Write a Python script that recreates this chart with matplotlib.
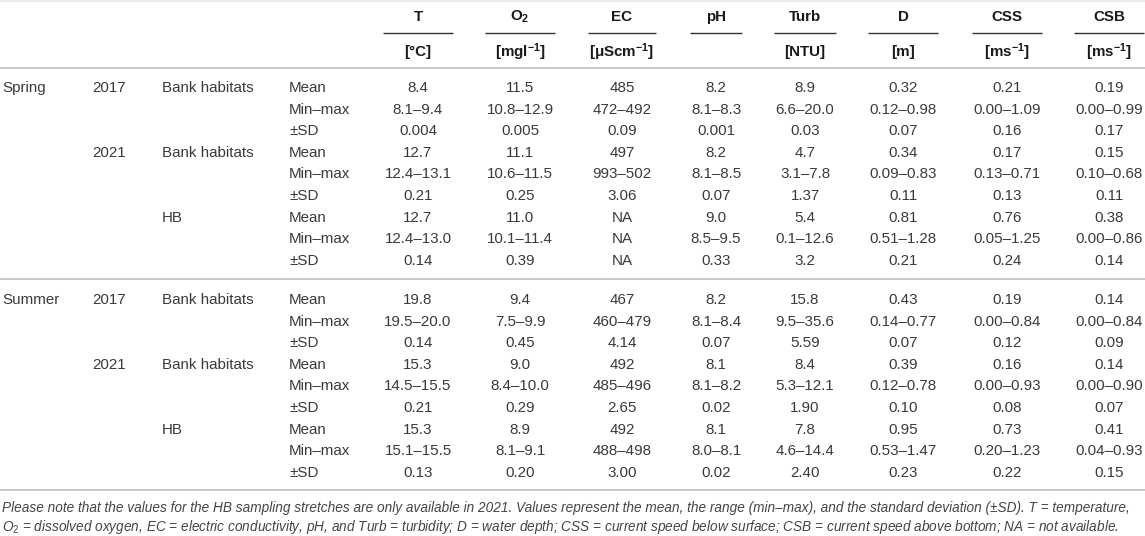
import matplotlib
matplotlib.use("Agg")
import matplotlib.pyplot as plt

plt.rcParams['font.family'] = ['Liberation Sans', 'DejaVu Sans']
plt.rcParams['mathtext.fontset'] = 'custom'
plt.rcParams['mathtext.rm'] = 'Liberation Sans'
plt.rcParams['mathtext.bf'] = 'Liberation Sans:bold'
plt.rcParams['mathtext.it'] = 'Liberation Sans:italic'

# header
params = ["T", r"O$_\mathbf{2}$", "EC", "pH", "Turb", "D", "CSS", "CSB"]
units = ["[°C]", r"[mgl$^\mathbf{-1}$]", r"[μScm$^\mathbf{-1}$]", "",
         "[NTU]", "[m]", r"[ms$^\mathbf{-1}$]", r"[ms$^\mathbf{-1}$]"]
stats = ["Mean", "Min–max", "±SD"]

# groups: season, year, habitat
groups = [("Spring", "2017", "Bank habitats"),
          ("", "2021", "Bank habitats"),
          ("", "", "HB"),
          ("Summer", "2017", "Bank habitats"),
          ("", "2021", "Bank habitats"),
          ("", "", "HB")]

spring_2017_bank = [["8.4", "11.5", "485", "8.2", "8.9", "0.32", "0.21", "0.19"],
                    ["8.1–9.4", "10.8–12.9", "472–492", "8.1–8.3", "6.6–20.0", "0.12–0.98", "0.00–1.09", "0.00–0.99"],
                    ["0.004", "0.005", "0.09", "0.001", "0.03", "0.07", "0.16", "0.17"]]
spring_2021_bank = [["12.7", "11.1", "497", "8.2", "4.7", "0.34", "0.17", "0.15"],
                    ["12.4–13.1", "10.6–11.5", "993–502", "8.1–8.5", "3.1–7.8", "0.09–0.83", "0.13–0.71", "0.10–0.68"],
                    ["0.21", "0.25", "3.06", "0.07", "1.37", "0.11", "0.13", "0.11"]]
spring_2021_hb = [["12.7", "11.0", "NA", "9.0", "5.4", "0.81", "0.76", "0.38"],
                  ["12.4–13.0", "10.1–11.4", "NA", "8.5–9.5", "0.1–12.6", "0.51–1.28", "0.05–1.25", "0.00–0.86"],
                  ["0.14", "0.39", "NA", "0.33", "3.2", "0.21", "0.24", "0.14"]]
summer_2017_bank = [["19.8", "9.4", "467", "8.2", "15.8", "0.43", "0.19", "0.14"],
                    ["19.5–20.0", "7.5–9.9", "460–479", "8.1–8.4", "9.5–35.6", "0.14–0.77", "0.00–0.84", "0.00–0.84"],
                    ["0.14", "0.45", "4.14", "0.07", "5.59", "0.07", "0.12", "0.09"]]
summer_2021_bank = [["15.3", "9.0", "492", "8.1", "8.4", "0.39", "0.16", "0.14"],
                    ["14.5–15.5", "8.4–10.0", "485–496", "8.1–8.2", "5.3–12.1", "0.12–0.78", "0.00–0.93", "0.00–0.90"],
                    ["0.21", "0.29", "2.65", "0.02", "1.90", "0.10", "0.08", "0.07"]]
summer_2021_hb = [["15.3", "8.9", "492", "8.1", "7.8", "0.95", "0.73", "0.41"],
                  ["15.1–15.5", "8.1–9.1", "488–498", "8.0–8.1", "4.6–14.4", "0.53–1.47", "0.20–1.23", "0.04–0.93"],
                  ["0.13", "0.20", "3.00", "0.02", "2.40", "0.23", "0.22", "0.15"]]
group_values = [spring_2017_bank, spring_2021_bank, spring_2021_hb,
                summer_2017_bank, summer_2021_bank, summer_2021_hb]

note1 = ("Please note that the values for the HB sampling stretches are only available in 2021. "
         "Values represent the mean, the range (min–max), and the standard deviation (±SD). T = temperature,")
note2 = (r"O$_2$ = dissolved oxygen, EC = electric conductivity, pH, and Turb = turbidity; D = water depth; "
         "CSS = current speed below surface; CSB = current speed above bottom; NA = not available.")

# layout (pixels)
W, H = 1145, 536
col_x = [418, 520, 622, 716, 805, 903, 1007, 1109]
col_half = [35, 35, 34, 26, 31, 35, 35, 35]
label_x = [2, 92, 162, 289]
row_h = 21.6
block_y = [88, 300]

fig = plt.figure(figsize=(W / 100, H / 100), dpi=100)
ax = fig.add_axes([0, 0, 1, 1])
ax.set_xlim(0, W)
ax.set_ylim(H, 0)
ax.axis('off')

fs = 10.9
hdr_col = '#1a1a1a'
txt_col = '#3a3a3a'
rule_col = '#c8c8c8'

# header
for x, hw, p, u in zip(col_x, col_half, params, units):
    ax.text(x, 17, p, ha='center', va='center', fontsize=fs, fontweight='bold', color=hdr_col)
    ax.plot([x - hw, x + hw], [33, 33], color='#333333', lw=1.0, solid_capstyle='butt')
    if u:
        ax.text(x, 52, u, ha='center', va='center', fontsize=fs, fontweight='bold', color=hdr_col)

ax.plot([0, W], [0.5, 0.5], color='#e6e6e6', lw=1.2)
ax.plot([0, W], [68, 68], color=rule_col, lw=1.4)
ax.plot([0, W], [279, 279], color=rule_col, lw=1.4)
ax.plot([0, W], [490, 490], color=rule_col, lw=1.4)

# body
for gi, (grp, vals) in enumerate(zip(groups, group_values)):
    y0 = block_y[gi // 3] + (gi % 3) * 3 * row_h
    for k, lab in enumerate(grp):
        if lab:
            ax.text(label_x[k], y0, lab, ha='left', va='center', fontsize=fs, color=txt_col)
    for si, (st, row) in enumerate(zip(stats, vals)):
        y = y0 + si * row_h
        ax.text(label_x[3], y, st, ha='left', va='center', fontsize=fs, color=txt_col)
        for x, v in zip(col_x, row):
            ax.text(x, y, v, ha='center', va='center', fontsize=fs, color=txt_col)

ax.text(2, 508, note1, ha='left', va='center', fontsize=9.8, style='italic', color='#444444')
ax.text(2, 527, note2, ha='left', va='center', fontsize=9.8, style='italic', color='#444444')

fig.savefig('out.png', dpi=100)
